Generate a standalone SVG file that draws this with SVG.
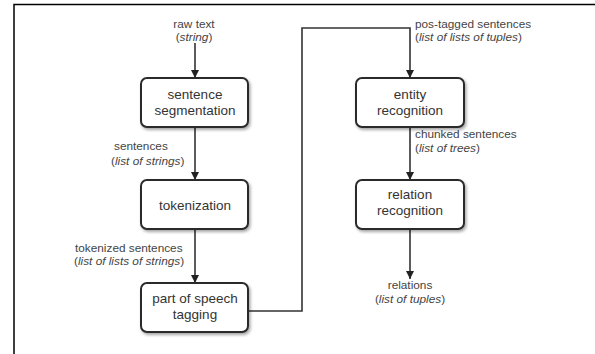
<svg xmlns="http://www.w3.org/2000/svg" width="595" height="354" viewBox="0 0 595 354">
<defs>
<style>
.box{fill:#fff;stroke:#2a2a2a;stroke-width:2;filter:url(#sh)}
.bt{font-family:"Liberation Sans",Arial,sans-serif;font-size:13.5px;fill:#333;text-anchor:middle}
.lb{font-family:"Liberation Sans",Arial,sans-serif;font-size:11.8px;fill:#444}
.it{font-style:italic}
.ln{fill:none;stroke:#333;stroke-width:1.6}
</style>
<filter id="sh" x="-20%" y="-20%" width="150%" height="160%">
<feDropShadow dx="1.5" dy="2" stdDeviation="1.5" flood-color="#000" flood-opacity="0.35"/>
</filter>
<marker id="ah" viewBox="0 0 10 10" refX="10" refY="5" markerWidth="8" markerHeight="8" markerUnits="userSpaceOnUse" orient="auto">
<path d="M0,0 L10,5 L0,10 z" fill="#222"/>
</marker>
</defs>
<rect width="595" height="354" fill="#fff"/>
<path d="M14,354 V4.5 H595" fill="none" stroke="#000" stroke-width="1.5"/>

<g id="connectors">
<path class="ln" d="M195,43 V78" marker-end="url(#ah)"/>
<path class="ln" d="M195,127 V180" marker-end="url(#ah)"/>
<path class="ln" d="M195,229 V283" marker-end="url(#ah)"/>
<path class="ln" d="M248,311 H302 V28 H410 V78" marker-end="url(#ah)"/>
<path class="ln" d="M410,127 V180" marker-end="url(#ah)"/>
<path class="ln" d="M410,229 V279" marker-end="url(#ah)"/>
</g>

<g id="labels">
<text class="lb" x="194" y="28" text-anchor="middle">raw text</text>
<text class="lb" x="194" y="41" text-anchor="middle">(<tspan class="it">string</tspan>)</text>
<text class="lb" x="114" y="150">sentences</text>
<text class="lb" x="111" y="165">(<tspan class="it">list of strings</tspan>)</text>
<text class="lb" x="75" y="252">tokenized sentences</text>
<text class="lb" x="74" y="265">(<tspan class="it">list of lists of strings</tspan>)</text>
<text class="lb" x="415" y="28">pos-tagged sentences</text>
<text class="lb" x="415" y="41">(<tspan class="it">list of lists of tuples</tspan>)</text>
<text class="lb" x="415" y="138">chunked sentences</text>
<text class="lb" x="415" y="152">(<tspan class="it">list of trees</tspan>)</text>
<text class="lb" x="410" y="289" text-anchor="middle">relations</text>
<text class="lb" x="410" y="303" text-anchor="middle">(<tspan class="it">list of tuples</tspan>)</text>
</g>

<g id="sentence-segmentation">
<rect class="box" x="141" y="78" width="107" height="49" rx="6"/>
<text class="bt" x="195" y="99">sentence</text>
<text class="bt" x="195" y="115">segmentation</text>
</g>
<g id="tokenization">
<rect class="box" x="141" y="180" width="107" height="49" rx="6"/>
<text class="bt" x="195" y="210">tokenization</text>
</g>
<g id="pos-tagging">
<rect class="box" x="141" y="283" width="107" height="49" rx="6"/>
<text class="bt" x="195" y="303">part of speech</text>
<text class="bt" x="195" y="319">tagging</text>
</g>
<g id="entity-recognition">
<rect class="box" x="356" y="78" width="108" height="49" rx="6"/>
<text class="bt" x="410" y="99">entity</text>
<text class="bt" x="410" y="115">recognition</text>
</g>
<g id="relation-recognition">
<rect class="box" x="356" y="180" width="108" height="49" rx="6"/>
<text class="bt" x="410" y="199">relation</text>
<text class="bt" x="410" y="215">recognition</text>
</g>
</svg>
